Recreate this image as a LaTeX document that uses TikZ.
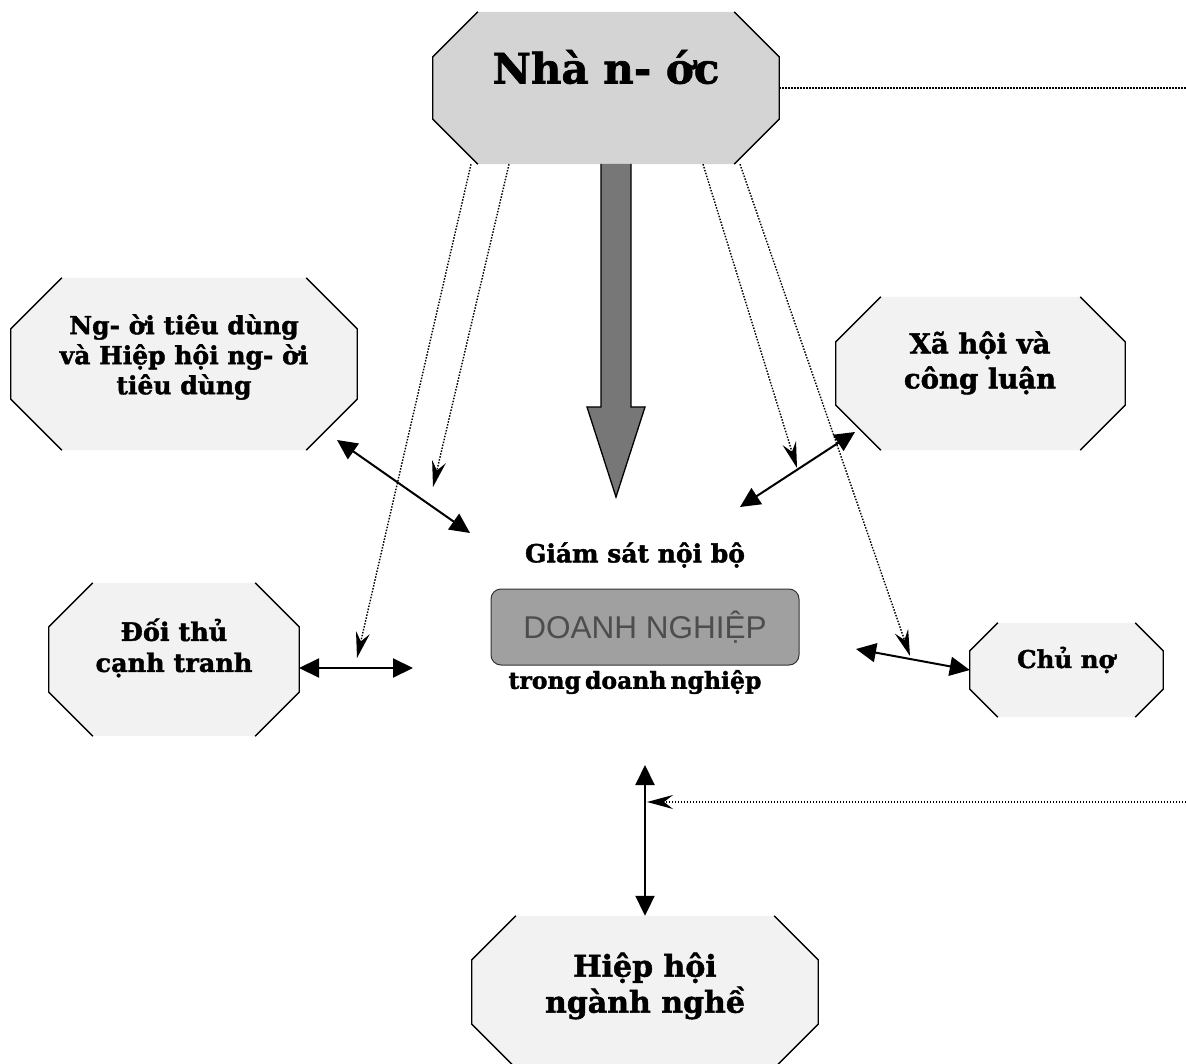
\documentclass[tikz,border=0pt]{standalone}
\usepackage{fontspec}
\setmainfont{DejaVu Serif}[BoldFeatures={FakeBold=1.6}]
\newfontfamily\dnfont{Liberation Sans}
\usetikzlibrary{arrows.meta, calc}

\definecolor{nhafill}{HTML}{D4D4D4}
\definecolor{octfill}{HTML}{F2F2F2}
\definecolor{bigfill}{HTML}{777777}
\definecolor{dnfill}{HTML}{A0A0A0}
\definecolor{dntext}{HTML}{4D4D4D}

\begin{document}
\begin{tikzpicture}[
    x=1pt, y=-1pt,
    octbox/.style={inner sep=0pt},
    octline/.style={line width=1.3pt},
    title/.style 2 args={
        align=center,
        inner sep=0pt,
        font=\bfseries\fontsize{#1}{#2}\selectfont
    },
    dnbox/.style={
        draw=black!80,
        line width=1pt,
        rounded corners=10pt,
        minimum width=308pt,
        minimum height=76pt,
        fill=dnfill,
        text=dntext,
        font=\dnfont\fontsize{31.5}{36}\selectfont
    },
    bigarrow/.style={fill=bigfill, draw=black, line width=1.3pt},
    link/.style={line width=2pt, {Triangle[length=20pt,width=19pt]}-{Triangle[length=20pt,width=19pt]}},
    hint/.style={line width=1.4pt, dash pattern=on 1.5pt off 1.5pt, -{Stealth[length=26pt,width=14pt,inset=9pt]}},
    hintline/.style={line width=1.4pt, dash pattern=on 1.5pt off 1.5pt}
]
\useasboundingbox (0,0) rectangle (1186,1064);

\node[octbox, minimum width=346pt, minimum height=152pt] (nha) at (606,88) {};
\node[octbox, minimum width=346pt, minimum height=172pt] (ntd) at (184,364) {};
\node[octbox, minimum width=289pt, minimum height=153pt] (xh) at (980.5,373.5) {};
\node[octbox, minimum width=250pt, minimum height=153pt] (dt) at (174,659.5) {};
\node[octbox, minimum width=193pt, minimum height=94pt] (cn) at (1066.5,670) {};
\node[octbox, minimum width=346pt, minimum height=152pt] (hh) at (645,992) {};

\foreach \n/\c/\f in {nha/45/nhafill, ntd/51/octfill, xh/45/octfill, dt/44/octfill, cn/28/octfill, hh/44/octfill}{
    \fill[\f] ($(\n.north west)+(\c,0)$) -- ($(\n.north east)+(-\c,0)$)
        -- ($(\n.north east)+(0,\c)$) -- ($(\n.south east)+(0,-\c)$)
        -- ($(\n.south east)+(-\c,0)$) -- ($(\n.south west)+(\c,0)$)
        -- ($(\n.south west)+(0,-\c)$) -- ($(\n.north west)+(0,\c)$) -- cycle;
    \draw[octline] ($(\n.north east)+(-\c,0)$) -- ($(\n.north east)+(0,\c)$)
        -- ($(\n.south east)+(0,-\c)$) -- ($(\n.south east)+(-\c,0)$);
    \draw[octline] ($(\n.north west)+(\c,0)$) -- ($(\n.north west)+(0,\c)$)
        -- ($(\n.south west)+(0,-\c)$) -- ($(\n.south west)+(\c,0)$);
}

\node[title={42}{48}] (nhaT) at (606,67) {Nhà n- ớc};
\node[title={25}{30}] (ntdT) at (184,357) {Ng- ời tiêu dùng\\và Hiệp hội ng- ời\\tiêu dùng};
\node[title={27.5}{35}] (xhT) at (980,363) {Xã hội và\\công luận};
\node[title={25.5}{31}] (dtT) at (174,648) {Đối thủ\\cạnh tranh};
\node[title={24.5}{31}] (cnT) at (1066,660) {Chủ nợ};
\node[title={30}{36}] (hhT) at (645,986) {Hiệp hội\\ngành nghề};

\node[title={25}{30}] (gs) at (635,555) {Giám sát nội bộ};
\node[dnbox] (dn) at (645,627) {DOANH NGHIỆP};
\node[title={23.5}{30}] (tdn) at (635,682) {trong\hspace{4pt}doanh\hspace{4pt}nghiệp};

\coordinate (bigtop) at (616,164);
\coordinate (bigtip) at (616,497);
\filldraw[bigarrow] ($(bigtop)+(-15,0)$) -- ($(bigtop)+(-15,243)$) -- ($(bigtop)+(-29,243)$)
    -- (bigtip) -- ($(bigtop)+(29,243)$) -- ($(bigtop)+(15,243)$) -- ($(bigtop)+(15,0)$);

\coordinate (a1) at (337,440);
\coordinate (a1e) at (470,533);
\coordinate (a2) at (299,668);
\coordinate (a2e) at (413,668);
\coordinate (a3) at (855,432);
\coordinate (a3e) at (740,507);
\coordinate (a4e) at (856,649);
\coordinate (a5e) at (645,765);

\draw[link] (a1) -- (a1e);
\draw[link] (a2) -- (a2e);
\draw[link] (a3) -- (a3e);
\draw[link] (cn.west) -- (a4e);
\draw[link] (hh.north) -- (a5e);

\coordinate (d1e) at (357,658);
\coordinate (d2e) at (433,487);
\coordinate (d3e) at (797,468);
\coordinate (d4e) at (910,656);
\coordinate (rtop) at (1186,88);
\coordinate (rbot) at (1186,802);
\coordinate (d6e) at (647,802);

\draw[hint] ($(nha.south)+(-135,0)$) -- (d1e);
\draw[hint] ($(nha.south)+(-97,0)$) -- (d2e);
\draw[hint] ($(nha.south)+(97,0)$) -- (d3e);
\draw[hint] ($(nha.south)+(134,0)$) -- (d4e);
\draw[hintline] (nha.east) -- (rtop);
\draw[hint] (rbot) -- (d6e);

\end{tikzpicture}
\end{document}
